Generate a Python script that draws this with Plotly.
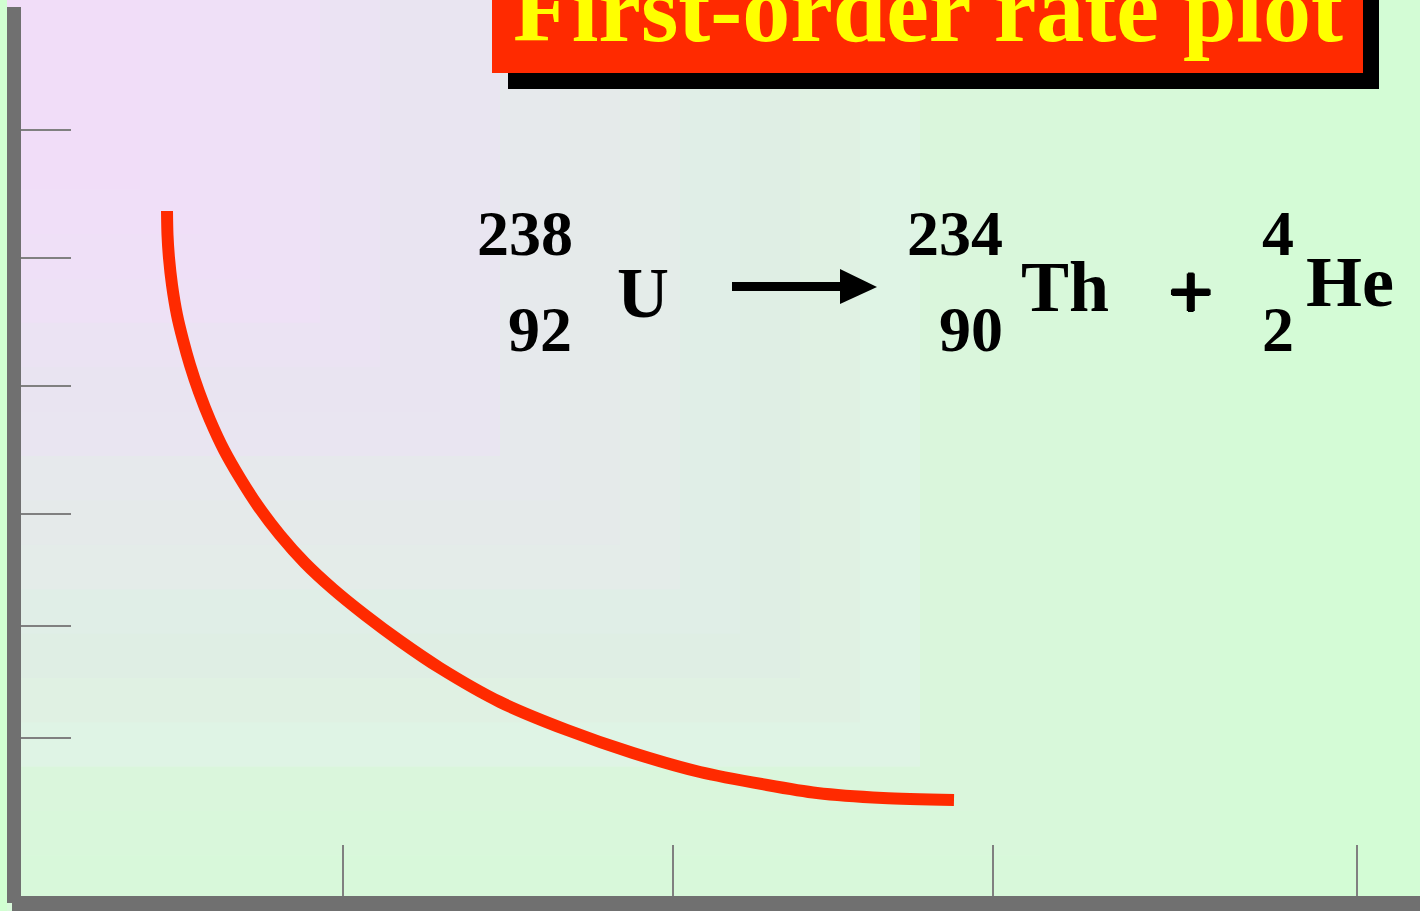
import plotly.graph_objects as go

# ---- data ----
time_values = [146, 146.5, 148, 151, 156, 162, 169, 178, 189, 203, 219, 237, 259, 284, 312, 344, 379, 419,
               479, 546, 612, 679, 746, 796, 862, 933]
amount_values = [685, 661, 638, 611, 581, 556, 531, 504, 476, 446, 418, 390, 361, 333, 307, 281, 255, 228,
                 194, 166, 143, 124, 111, 103, 98, 96]
x_ticks = [322, 652, 972, 1336]
y_ticks = [766, 638, 510, 382, 270, 158]

title_text = "First-order rate plot"
equation_labels = [
    # text, x px, anchor, baseline px, size
    ("238", 574, "right", 252.5, 64),
    ("92", 573, "right", 349, 64),
    ("U", 616, "left", 315, 72),
    ("234", 1004, "right", 252.5, 64),
    ("90", 1004, "right", 349, 64),
    ("Th", 1020, "left", 309, 72),
    ("+", 1166.5, "left", 316, 80),
    ("4", 1261, "left", 252.5, 64),
    ("2", 1261, "left", 349, 64),
    ("He", 1305, "left", 304, 72),
]

band_right = [140, 200, 260, 320, 380, 440, 500, 560, 620, 680, 740, 800, 860, 920, 980, 1040, 1100,
              1160, 1220, 1280, 1340, 1420]
band_colors = ["#F1DDF8", "#F0DFF8", "#EFE0F7", "#EEE1F6", "#EBE3F3", "#E9E4F1", "#E9E5F1", "#E6E9EC",
               "#E5EAEA", "#E4ECE9", "#E0EEE7", "#DFEEE4", "#E0F1E3", "#DFF4E5", "#DAF6DC", "#D9F7DB",
               "#D8F8DA", "#D8F9DA", "#D7F9D9", "#D5FAD7", "#D4FBD6", "#D3FCD5"]

# ---- layout helpers ----
W, H = 1420, 911
L, B = 21, 15
PW, PH = W - L, H - B


def px(x):
    return (x - L) / PW


def py(y):
    return (PH - y) / PH


def rect(x0, y0, x1, y1, color, layer="above"):
    return dict(type="rect", xref="paper", yref="paper", x0=px(x0), x1=px(x1), y0=py(y0), y1=py(y1),
                fillcolor=color, line=dict(width=0), layer=layer)


shapes = []
for right, color in reversed(list(zip(band_right, band_colors))):
    shapes.append(rect(7, 0, right, min(911, 0.74 * right + 86), color, "below"))
shapes += [
    rect(7, 7, 21, 903, "#707070"),
    rect(12, 896, 1420, 911, "#707070"),
    rect(508, -10, 1379, 89, "#000000"),
    rect(492, -10, 1363, 73, "#FF2A00"),
    rect(732, 282, 842, 291, "#000000"),
    dict(type="path", xref="paper", yref="paper", fillcolor="#000000", line=dict(width=0),
         path=f"M {px(840)} {py(269)} L {px(877)} {py(287)} L {px(840)} {py(304)} Z"),
]

annotations = [dict(text=title_text, xref="paper", yref="paper", x=px(928), y=py(37 - 0.30 * 96), xanchor="center",
                    yanchor="middle", showarrow=False, borderpad=0,
                    font=dict(family="Liberation Serif", size=96, color="#FFFF00", weight="bold"))]
for text, x, anchor, base, size in equation_labels:
    font = dict(family="Liberation Serif", size=size, color="#000000", weight="bold")
    if text == "+":
        font["shadow"] = "1.2px 0 0 #000, -1.2px 0 0 #000, 0 1.2px 0 #000, 0 -1.2px 0 #000"
    annotations.append(dict(text=text, xref="paper", yref="paper", x=px(x), y=py(base - 0.30 * size),
                            xanchor=anchor, yanchor="middle", showarrow=False, borderpad=0, font=font))

fig = go.Figure(go.Scatter(x=time_values, y=amount_values, mode="lines",
                           line=dict(color="#FF2A00", width=12, shape="spline", smoothing=0.8),
                           hoverinfo="skip"))
fig.update_layout(
    width=W, height=H, margin=dict(l=L, r=0, t=0, b=B), paper_bgcolor="#D1FFD1", plot_bgcolor="rgba(0,0,0,0)",
    showlegend=False, shapes=shapes, annotations=annotations,
    xaxis=dict(range=[0, PW], tickmode="array", tickvals=x_ticks, ticks="inside", ticklen=51, tickwidth=2,
               tickcolor="#808080", showticklabels=False, showgrid=False, zeroline=False, showline=False),
    yaxis=dict(range=[0, PH], tickmode="array", tickvals=y_ticks, ticks="inside", ticklen=50, tickwidth=2,
               tickcolor="#808080", showticklabels=False, showgrid=False, zeroline=False, showline=False),
)
fig.write_html("out.html", config=dict(displayModeBar=False), post_script="document.body.style.margin='0';")
